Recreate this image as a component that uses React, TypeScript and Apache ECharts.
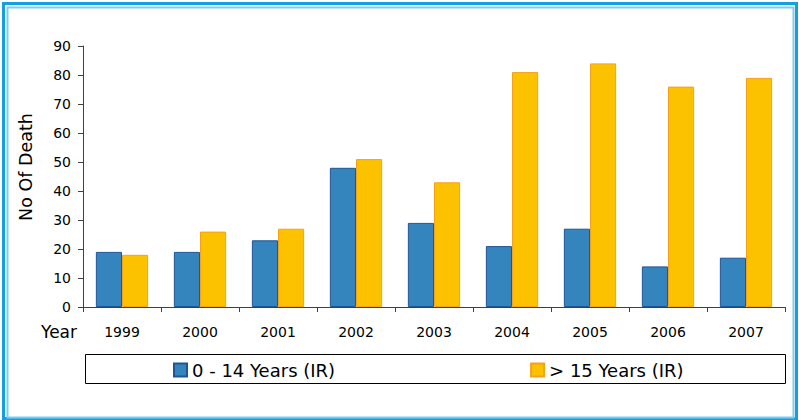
import React, { useEffect, useRef } from "react";
import * as echarts from "echarts";

const categories = ["1999", "2000", "2001", "2002", "2003", "2004", "2005", "2006", "2007"];
const seriesNames = ["0 - 14 Years (IR)", "> 15 Years (IR)"];
const young = [19, 19, 23, 48, 29, 21, 27, 14, 17];
const older = [18, 26, 27, 51, 43, 81, 84, 76, 79];
const yMin = 0;
const yMax = 90;
const yInterval = 10;

const FONT = "DejaVu Sans";

export default function App() {
  const ref = useRef<HTMLDivElement>(null);
  useEffect(() => {
    if (!ref.current) return;
    const chart = echarts.init(ref.current, undefined, { renderer: "svg" });
    chart.setOption({
      animation: false,
      backgroundColor: "#ffffff",
      grid: { left: 83, top: 46, right: 14, bottom: 113, containLabel: false },
      legend: {
        left: 173,
        top: 361,
        padding: 0,
        itemGap: 195,
        itemWidth: 13,
        itemHeight: 13,
        icon: "rect",
        textStyle: { fontFamily: FONT, fontSize: 18, color: "#000", padding: [0, 0, 0, 0] },
        data: seriesNames,
      },
      xAxis: {
        type: "category",
        data: categories,
        axisLine: { lineStyle: { color: "#404040", width: 1 } },
        axisTick: { show: true, length: 5, lineStyle: { color: "#404040" } },
        axisLabel: { fontFamily: FONT, fontSize: 14, color: "#000", margin: 18 },
      },
      yAxis: {
        type: "value",
        min: yMin,
        max: yMax,
        interval: yInterval,
        splitLine: { show: false },
        axisLine: { show: true, lineStyle: { color: "#404040", width: 1 } },
        axisTick: { show: true, length: 5, lineStyle: { color: "#404040" } },
        axisLabel: { fontFamily: FONT, fontSize: 14, color: "#000", margin: 12 },
      },
      series: [
        {
          name: seriesNames[0],
          type: "bar",
          data: young,
          barGap: "0%",
          barCategoryGap: "33%",
          itemStyle: { color: "#3484BE", borderColor: "#1F5596", borderWidth: 1 },
        },
        {
          name: seriesNames[1],
          type: "bar",
          data: older,
          barGap: "0%",
          barCategoryGap: "33%",
          itemStyle: { color: "#FCC200", borderColor: "#F5A21A", borderWidth: 1 },
        },
      ],
      graphic: [
        {
          type: "rect",
          shape: { x: 3.5, y: 3.5, width: 793, height: 415 },
          style: { fill: "none", stroke: "#14A0DE", lineWidth: 3 },
          silent: true,
        },
        {
          type: "rect",
          shape: { x: 7.5, y: 7.5, width: 786, height: 410 },
          style: { fill: "none", stroke: "#80CCF0", lineWidth: 2 },
          silent: true,
        },
        {
          type: "rect",
          shape: { x: 85.5, y: 354.5, width: 700, height: 29 },
          style: { fill: "none", stroke: "#000", lineWidth: 1 },
          silent: true,
        },
        {
          type: "text",
          x: 41,
          y: 332,
          style: {
            text: "Year",
            fontFamily: FONT,
            fontSize: 17,
            fill: "#000",
            align: "left",
            verticalAlign: "middle",
          },
        },
        {
          type: "text",
          x: 26,
          y: 167,
          rotation: Math.PI / 2,
          style: {
            text: "No Of Death",
            fontFamily: FONT,
            fontSize: 17.5,
            fill: "#000",
            align: "center",
            verticalAlign: "middle",
          },
        },
      ],
    });
    return () => chart.dispose();
  }, []);
  return (
    <div
      ref={ref}
      style={{ position: "fixed", left: 0, top: 0, width: 799, height: 420 }}
    />
  );
}
